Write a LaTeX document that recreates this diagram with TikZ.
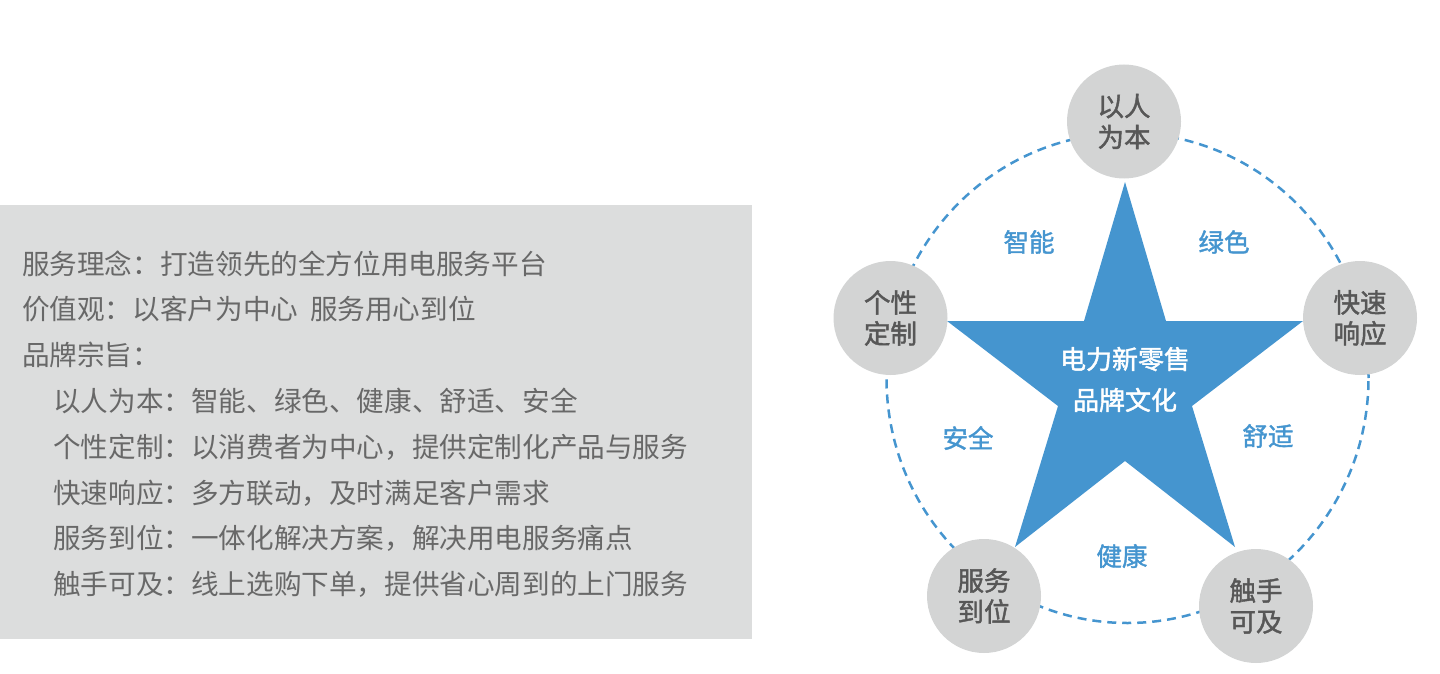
\documentclass[tikz,border=0pt]{standalone}
\usepackage{fontspec}
\newfontfamily\cjk{Noto Sans CJK SC}
\newfontfamily\cjkb[FakeBold=1.6]{Noto Sans CJK SC}
\definecolor{boxbg}{HTML}{DCDDDD}
\definecolor{boxtext}{HTML}{686868}
\definecolor{circfill}{HTML}{D3D4D4}
\definecolor{circtext}{HTML}{575757}
\definecolor{starblue}{HTML}{4595CF}
\begin{document}
\begin{tikzpicture}[x=1pt,y=-1pt,
  boxline/.style={anchor=west,inner sep=0pt,text=boxtext,font=\cjk\fontsize{27.6}{30}\selectfont},
  bubble/.style={circle,fill=circfill,minimum size=114pt,inner sep=0pt,text=circtext,align=center,font=\cjkb\fontsize{26.5}{31}\selectfont},
  virtue/.style={inner sep=0pt,text=starblue,font=\cjkb\fontsize{25.5}{30}\selectfont},
  core/.style={inner sep=0pt,text=white,align=center,font=\cjkb\fontsize{26}{41}\selectfont},
  dashring/.style={draw=starblue,line width=2.5pt,dash pattern=on 9pt off 6pt}
]
\useasboundingbox (0,0) rectangle (1440,674);
% left panel
\fill[boxbg] (0,205) rectangle (752,639);
\node[boxline] (l1) at (22,264) {服务理念：打造领先的全方位用电服务平台};
\node[boxline] (l2) at (22,309) {价值观：以客户为中心\hspace{12pt}服务用心到位};
\node[boxline] (l3) at (22,355) {品牌宗旨：};
\node[boxline] (l4) at (53,401) {以人为本：智能、绿色、健康、舒适、安全};
\node[boxline] (l5) at (53,447) {个性定制：以消费者为中心，提供定制化产品与服务};
\node[boxline] (l6) at (53,493) {快速响应：多方联动，及时满足客户需求};
\node[boxline] (l7) at (53,538) {服务到位：一体化解决方案，解决用电服务痛点};
\node[boxline] (l8) at (53,584) {触手可及：线上选购下单，提供省心周到的上门服务};
% dashed ring
\draw[dashring] (1127.5,378) ellipse [x radius=241pt, y radius=245pt];
% star
\fill[starblue] (1125,182) -- (1084,321) -- (947,321) -- (1058,406) -- (1015,547)
  -- (1125,461) -- (1235,547) -- (1192,406) -- (1303,321) -- (1166,321) -- cycle;
\node[core] (core) at (1125,379.5) {电力新零售\\品牌文化};
% virtues
\node[virtue] (v1) at (1029,242) {智能};
\node[virtue] (v2) at (1224,242) {绿色};
\node[virtue] (v3) at (968,438) {安全};
\node[virtue] (v4) at (1268,436) {舒适};
\node[virtue] (v5) at (1122,556) {健康};
% bubbles
\node[bubble] (b1) at (1124,121.5) {以人\\为本};
\node[bubble] (b2) at (890.5,318) {个性\\定制};
\node[bubble] (b3) at (1360,318) {快速\\响应};
\node[bubble] (b4) at (984,596) {服务\\到位};
\node[bubble] (b5) at (1256,606) {触手\\可及};
\end{tikzpicture}
\end{document}
